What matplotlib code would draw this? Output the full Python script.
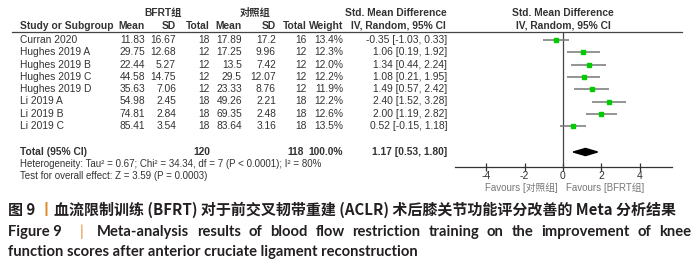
import numpy as np
import matplotlib
matplotlib.use("Agg")
import matplotlib.pyplot as plt
from matplotlib.transforms import blended_transform_factory
from matplotlib.patches import Polygon

# study data
names = ["Curran 2020", "Hughes 2019 A", "Hughes 2019 B", "Hughes 2019 C",
         "Hughes 2019 D", "Li 2019 A", "Li 2019 B", "Li 2019 C"]
bfrt_mean = [11.83, 29.75, 22.44, 44.58, 35.63, 54.98, 74.81, 85.41]
bfrt_sd = [16.67, 12.68, 5.27, 14.75, 7.06, 2.45, 2.84, 3.54]
bfrt_n = [18, 12, 12, 12, 12, 18, 18, 18]
ctrl_mean = [17.89, 17.25, 13.5, 29.5, 23.33, 49.26, 69.35, 83.64]
ctrl_sd = [17.2, 9.96, 7.42, 12.07, 8.76, 2.21, 2.48, 3.16]
ctrl_n = [16, 12, 12, 12, 12, 18, 18, 18]
weight = [13.4, 12.3, 12.0, 12.2, 11.9, 12.2, 12.6, 13.5]
smd = [-0.35, 1.06, 1.34, 1.08, 1.49, 2.40, 2.00, 0.52]
ci_lo = [-1.03, 0.19, 0.44, 0.21, 0.57, 1.52, 1.19, -0.15]
ci_hi = [0.33, 1.92, 2.24, 1.95, 2.42, 3.28, 2.82, 1.18]

total_bfrt = 120
total_ctrl = 118
total_smd, total_lo, total_hi = 1.17, 0.53, 1.80
ticks = [-4, -2, 0, 2, 4]

heterogeneity = "Heterogeneity: Tau\u00b2 = 0.67; Chi\u00b2 = 34.34, df = 7 (P < 0.0001); I\u00b2 = 80%"
overall = "Test for overall effect: Z = 3.59 (P = 0.0003)"

W, H = 700, 269
fig = plt.figure(figsize=(W / 100, H / 100), dpi=100)
bg = fig.add_axes([0, 0, 1, 1])
bg.set_xlim(0, W)
bg.set_ylim(H, 0)
bg.axis("off")

# forest axes: rows at 40 + 12.3*r px
row_px = 12.3
top_px, bot_px = 32, 167
ax = fig.add_axes([455 / W, 1 - bot_px / H, (672 - 455) / W, (bot_px - top_px) / H])
ax.set_ylim((bot_px - 40) / row_px, (top_px - 40) / row_px)
x_unit = 19.2
ax.set_xlim((455 - 563) / x_unit, (672 - 563) / x_unit)
ax.patch.set_alpha(0)
for s in ["top", "right", "left"]:
    ax.spines[s].set_visible(False)
ax.spines["bottom"].set_color("#333333")
ax.spines["bottom"].set_linewidth(0.9)
ax.set_yticks([])
ax.set_xticks(ticks)
ax.tick_params(axis="x", direction="inout", length=6, width=0.9, color="#333333",
               labelsize=7.5, labelcolor="#333333", pad=0)
ax.set_xticklabels([str(t) for t in ticks], fontfamily="Liberation Sans")
ax.axvline(0, color="#444444", lw=0.9)

rows = np.arange(len(names))
total_row = (152 - 40) / row_px

for r, s, lo, hi, w in zip(rows, smd, ci_lo, ci_hi, weight):
    ax.plot([lo, hi], [r, r], color="#777777", lw=1.1, solid_capstyle="butt")
    ax.plot(s, r, marker="s", ms=3.0 * np.sqrt(w / 12.5), color="#00cc00", mec="#00cc00")

dh = 0.29
ax.add_patch(Polygon([[total_lo, total_row], [total_smd, total_row - dh],
                      [total_hi, total_row], [total_smd, total_row + dh]],
                     closed=True, color="black"))

# table text
tr = blended_transform_factory(bg.transData, ax.transData)
tfont = dict(fontfamily=["Liberation Sans", "Noto Sans CJK SC"], fontsize=7.4, color="#333333",
             va="center")
hfont = dict(tfont, fontweight="bold")
cols_right = [145, 176, 210, 242, 276, 307, 343]
ci_right = 447

hdr1 = (13 - 40) / row_px
hdr2 = (26 - 40) / row_px
bg.text(163, hdr1, "BFRT组", ha="center", transform=tr, **hfont)
bg.text(255, hdr1, "对照组", ha="center", transform=tr, **hfont)
bg.text(396, hdr1, "Std. Mean Difference", ha="center", transform=tr, **hfont)
bg.text(563, hdr1, "Std. Mean Difference", ha="center", transform=tr, **hfont)
bg.text(20, hdr2, "Study or Subgroup", ha="left", transform=tr, **hfont)
for x, lab in zip(cols_right, ["Mean", "SD", "Total", "Mean", "SD", "Total", "Weight"]):
    bg.text(x, hdr2, lab, ha="right", transform=tr, **hfont)
bg.text(398, hdr2, "IV, Random, 95% CI", ha="center", transform=tr, **hfont)
bg.text(563, hdr2, "IV, Random, 95% CI", ha="center", transform=tr, **hfont)
bg.plot([12, 682], [top_px, top_px], color="#444444", lw=0.9)

for r in rows:
    bg.text(20, r, names[r], ha="left", transform=tr, **tfont)
    vals = [f"{bfrt_mean[r]:g}", f"{bfrt_sd[r]:g}", str(bfrt_n[r]),
            f"{ctrl_mean[r]:g}", f"{ctrl_sd[r]:g}", str(ctrl_n[r]), f"{weight[r]:.1f}%"]
    for x, v in zip(cols_right, vals):
        bg.text(x, r, v, ha="right", transform=tr, **tfont)
    bg.text(ci_right, r, f"{smd[r]:.2f} [{ci_lo[r]:.2f}, {ci_hi[r]:.2f}]", ha="right",
            transform=tr, **tfont)

bg.text(20, total_row, "Total (95% CI)", ha="left", transform=tr, **hfont)
bg.text(cols_right[2], total_row, str(total_bfrt), ha="right", transform=tr, **hfont)
bg.text(cols_right[5] - 3, total_row, str(total_ctrl), ha="right", transform=tr, **hfont)
bg.text(cols_right[6], total_row, "100.0%", ha="right", transform=tr, **hfont)
bg.text(ci_right, total_row, f"{total_smd:.2f} [{total_lo:.2f}, {total_hi:.2f}]",
        ha="right", transform=tr, **hfont)
bg.text(20, 164, heterogeneity, ha="left", va="center", fontfamily="Liberation Sans",
        fontsize=7, color="#333333")
bg.text(20, 176, overall, ha="left", va="center", fontfamily="Liberation Sans",
        fontsize=7, color="#333333")

ffont = dict(fontfamily=["Liberation Sans", "Noto Sans CJK SC"], fontsize=7, color="#777777",
             va="center")
bg.text(558, 188, "Favours [对照组]", ha="right", **ffont)
bg.text(566, 188, "Favours [BFRT组]", ha="left", **ffont)

# caption
cap_color = "#231f20"
orange = "#e08a2c"
renderer = fig.canvas.get_renderer()


def width_px(t):
    bb = t.get_window_extent(renderer=renderer)
    return bb.width


def pieces(parts, x, y, **kw):
    for txt, col in parts:
        t = bg.text(x, y, txt, ha="left", va="center", color=col, **kw)
        x += width_px(t)
    return x


def justify(words, x0, x1, y, **kw):
    texts = [bg.text(0, y, w, ha="left", va="center", color=cap_color, **kw) for w in words]
    widths = [width_px(t) for t in texts]
    gap = (x1 - x0 - sum(widths)) / (len(words) - 1)
    x = x0
    for t, w in zip(texts, widths):
        t.set_x(x)
        x += w + gap


cjk = dict(fontfamily=["Noto Sans CJK SC", "DejaVu Sans"], fontsize=10.8, fontweight="bold")
pieces([("图 9 ", cap_color), ("丨", orange),
        ("血流限制训练 (BFRT) 对于前交叉韧带重建 (ACLR) 术后膝关节功能评分改善的 Meta 分析结果", cap_color)],
       8, 210, **cjk)

en = dict(fontfamily="Lato", fontsize=10.6, fontweight="bold")
bg.text(8, 232, "Figure 9", ha="left", va="center", color=cap_color, **en)
bg.text(80, 232, "|", ha="left", va="center", color=orange, fontfamily="Lato", fontsize=10.6)
line2 = "Meta-analysis results of blood flow restriction training on the improvement of knee".split()
justify(line2, 97, 691, 232, **en)
bg.text(8, 252, "function scores after anterior cruciate ligament reconstruction",
        ha="left", va="center", color=cap_color, **en)

fig.savefig("out.png", dpi=100)
